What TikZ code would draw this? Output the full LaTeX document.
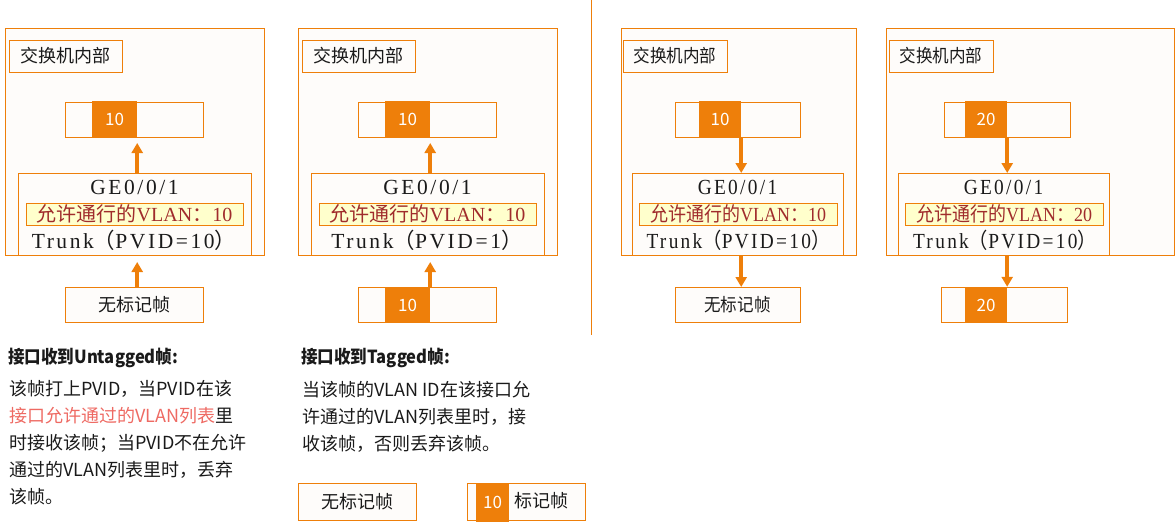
\documentclass[tikz,border=0pt]{standalone}
\usepackage{fontspec}
\usepackage{graphicx}
\setmainfont{Noto Sans CJK SC}
\newfontfamily\cjk{Noto Sans CJK SC}
\newfontfamily\ser[LetterSpace=12]{Liberation Serif}
\newfontfamily\serb{Liberation Serif}
\usetikzlibrary{arrows.meta}
\definecolor{og}{HTML}{EE7F0A}
\definecolor{offw}{HTML}{FEFCFA}
\definecolor{ylw}{HTML}{FFFFCC}
\definecolor{dred}{HTML}{A02C2C}
\definecolor{salmon}{HTML}{EE6A63}
\definecolor{txt}{HTML}{1A1A1A}
\newcommand\vlantxt[1]{{\cjk 允许通行的}{\serb VLAN}{\cjk ：}{\serb #1}}
\newcommand\trunktxt[1]{{\ser Trunk}{\cjk （}{\ser PVID=#1}{\cjk ）}}
\begin{document}
\begin{tikzpicture}[x=1pt,y=-1pt,
  box/.style={draw=og, line width=1pt, fill=offw, inner sep=0pt, outer sep=0pt, text=txt},
  tagbox/.style={fill=og, text=white, inner sep=0pt, font=\fontsize{17}{17}\selectfont},
  yel/.style={draw=og, line width=1pt, fill=ylw, inner sep=0pt, text=dred, font=\fontsize{20}{20}\selectfont},
  arr/.style={draw=og, line width=3.5pt, -{Triangle[width=11pt,length=10pt]}},
  lbl/.style={font=\fontsize{18}{18}\selectfont},
  ge/.style={text=txt, font=\ser\fontsize{21.5}{21.5}\selectfont, inner sep=0pt},
  tr/.style={text=txt, font=\fontsize{21.5}{21.5}\selectfont, inner sep=0pt},
  para/.style={anchor=base west, inner sep=0pt, text=txt, font=\fontsize{18}{18}\selectfont},
  ttl/.style={para, font=\bfseries\fontsize{18}{18}\selectfont},
]
\useasboundingbox (0,0) rectangle (1175,522);

% separator
\draw[og, line width=1pt] (591,0) -- (591,335);

% ===== Panel 1 =====
\node[box, minimum width=259pt, minimum height=227pt] (o1) at (134.5,141.5) {};
\node[box, lbl, minimum width=113pt, minimum height=32pt] (h1) at (65.5,56) {交换机内部};
\node[box, minimum width=138pt, minimum height=35pt] (f1) at (134,119.5) {};
\node[tagbox, minimum width=45pt, minimum height=36pt] (t1) at (114.5,119) {10};
\node[box, minimum width=233pt, minimum height=82pt] (i1) at (134.5,214) {};
\node[yel, minimum width=217pt, minimum height=22pt] (y1) at (134.5,214) {\vlantxt{10}};
\node[ge] (g1) at (134.5,187) {GE0/0/1};
\node[tr] (r1) at (134,240) {\trunktxt{10}};
\node[box, lbl, minimum width=138pt, minimum height=35pt] (l1) at (134,304.5) {无标记帧};
\draw[arr, shorten >=6pt] (i1.north -| t1.east) -- (f1.south -| t1.east);
\draw[arr, shorten >=7pt] (l1.north -| t1.east) -- (i1.south -| t1.east);

% ===== Panel 2 =====
\node[box, minimum width=259pt, minimum height=227pt] (o2) at (427.5,141.5) {};
\node[box, lbl, minimum width=113pt, minimum height=32pt] (h2) at (358.5,56) {交换机内部};
\node[box, minimum width=138pt, minimum height=35pt] (f2) at (427,119.5) {};
\node[tagbox, minimum width=45pt, minimum height=36pt] (t2) at (407.5,119) {10};
\node[box, minimum width=233pt, minimum height=82pt] (i2) at (427.5,214) {};
\node[yel, minimum width=217pt, minimum height=22pt] (y2) at (427.5,214) {\vlantxt{10}};
\node[ge] (g2) at (427.5,187) {GE0/0/1};
\node[tr] (r2) at (427,240) {\trunktxt{1}};
\node[box, minimum width=138pt, minimum height=35pt] (l2) at (427,304.5) {};
\node[tagbox, minimum width=45pt, minimum height=36pt] (u2) at (407.5,305) {10};
\draw[arr, shorten >=6pt] (i2.north -| t2.east) -- (f2.south -| t2.east);
\draw[arr, shorten >=7pt] (u2.north east) -- (i2.south -| u2.east);

% ===== Panel 3 =====
\node[box, minimum width=235pt, minimum height=227pt] (o3) at (738.5,141.5) {};
\node[box, lbl, minimum width=104pt, minimum height=32pt] (h3) at (675,56) {\scalebox{0.92}[1]{交换机内部}};
\node[box, minimum width=125pt, minimum height=35pt] (f3) at (737.5,119.5) {};
\node[tagbox, minimum width=42pt, minimum height=36pt] (t3) at (720,119) {10};
\node[box, minimum width=211pt, minimum height=82pt] (i3) at (737.5,214) {};
\node[yel, minimum width=198pt, minimum height=22pt] (y3) at (738,214) {\scalebox{0.9}[1]{\vlantxt{10}}};
\node[ge] (g3) at (737.5,187) {\scalebox{0.9}[1]{GE0/0/1}};
\node[tr] (r3) at (738.5,240) {\scalebox{0.9}[1]{\trunktxt{10}}};
\node[box, lbl, minimum width=125pt, minimum height=35pt] (l3) at (737.5,304.5) {\scalebox{0.92}[1]{无标记帧}};
\draw[arr] (f3.south -| t3.east) -- (i3.north -| t3.east);
\draw[arr] (i3.south -| t3.east) -- (l3.north -| t3.east);

% ===== Panel 4 =====
\node[box, minimum width=288pt, minimum height=227pt] (o4) at (1030,141.5) {};
\node[box, lbl, minimum width=104pt, minimum height=32pt] (h4) at (941,56) {\scalebox{0.92}[1]{交换机内部}};
\node[box, minimum width=126pt, minimum height=35pt] (f4) at (1007,119.5) {};
\node[tagbox, minimum width=42pt, minimum height=36pt] (t4) at (986,119) {20};
\node[box, minimum width=211pt, minimum height=82pt] (i4) at (1003.5,214) {};
\node[yel, minimum width=198pt, minimum height=22pt] (y4) at (1004,214) {\scalebox{0.9}[1]{\vlantxt{20}}};
\node[ge] (g4) at (1003.5,187) {\scalebox{0.9}[1]{GE0/0/1}};
\node[tr] (r4) at (1005,240) {\scalebox{0.9}[1]{\trunktxt{10}}};
\node[box, minimum width=126pt, minimum height=35pt] (l4) at (1004,304.5) {};
\node[tagbox, minimum width=42pt, minimum height=36pt] (u4) at (986,305) {20};
\draw[arr] (f4.south -| t4.east) -- (i4.north -| t4.east);
\draw[arr] (i4.south -| t4.east) -- (u4.north east);

% ===== Texts =====
\node[ttl] (ta) at (8,363) {\scalebox{0.92}[1]{接口收到Untagged帧:}};
\node[para] (a1) at (9,395) {该帧打上PVID，当PVID在该};
\node[para] (a2) at (9,422) {\textcolor{salmon}{接口允许通过的VLAN列表}里};
\node[para] (a3) at (9,449) {时接收该帧；当PVID不在允许};
\node[para] (a4) at (9,476) {通过的VLAN列表里时，丢弃};
\node[para] (a5) at (9,503) {该帧。};

\node[ttl] (tb) at (301,363) {\scalebox{0.92}[1]{接口收到Tagged帧:}};
\node[para] (b1) at (302,396) {当该帧的VLAN ID在该接口允};
\node[para] (b2) at (302,423) {许通过的VLAN列表里时，接};
\node[para] (b3) at (302,450) {收该帧，否则丢弃该帧。};

% ===== Legend =====
\node[box, lbl, minimum width=118pt, minimum height=37pt] (k1) at (357,501.5) {无标记帧};
\node[box, minimum width=118pt, minimum height=37pt] (k2) at (526,501.5) {};
\node[tagbox, minimum width=33pt, minimum height=39pt] (k2t) at (492.5,502.5) {10};
\node[lbl, text=txt, inner sep=0pt] (k2l) at (541,501) {标记帧};
\end{tikzpicture}
\end{document}
